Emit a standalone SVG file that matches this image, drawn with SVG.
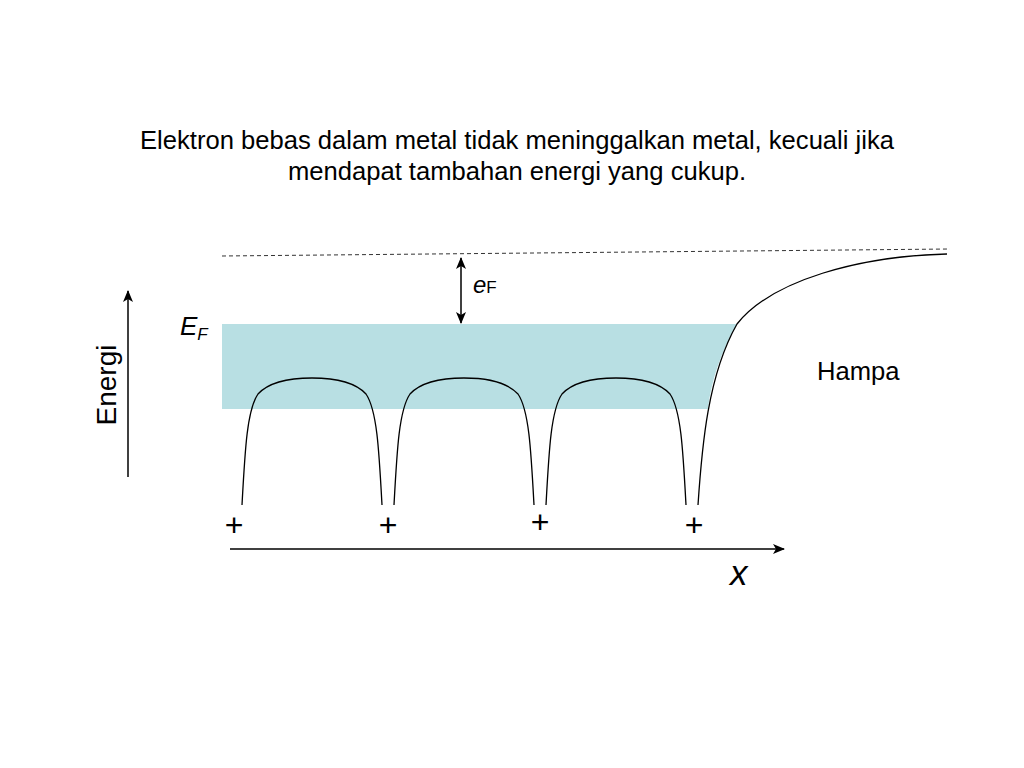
<svg xmlns="http://www.w3.org/2000/svg" width="1024" height="768" viewBox="0 0 1024 768">
<style>
text{font-family:"Liberation Sans",Arial,sans-serif;fill:#000}
.t{font-size:25.6px}
.curve{fill:none;stroke:#000;stroke-width:1.3}
.ax{fill:none;stroke:#000;stroke-width:1.5}
</style>
<defs>
<marker id="ah" viewBox="0 0 12 10" refX="11" refY="5" markerWidth="12" markerHeight="10" markerUnits="userSpaceOnUse" orient="auto-start-reverse">
<path d="M0,0 L12,5 L0,10 L3,5 Z" fill="#000"/>
</marker>
</defs>
<rect width="1024" height="768" fill="#fff"/>
<g id="title">
<text class="t" x="517" y="149" text-anchor="middle">Elektron bebas dalam metal tidak meninggalkan metal, kecuali jika</text>
<text class="t" x="517" y="180" text-anchor="middle">mendapat tambahan energi yang cukup.</text>
</g>
<g id="band">
<path d="M222,324 H737 C722,350 711,380 708,409 H222 Z" fill="#b8dfe3"/>
</g>
<g id="vacuum-level">
<path d="M222,256 L950,249" stroke="#333" stroke-width="1" stroke-dasharray="4 3" fill="none"/>
</g>
<g id="wells">
<path class="curve" d="M242,505 C245,450 247,410 258,394 C270,381 292,378 312,378 C332,378 354,381 366,394 C377,410 379,450 382,505"/>
<path class="curve" d="M394,505 C397,450 399,410 410,394 C422,381 444,378 464,378 C484,378 506,381 518,394 C529,410 531,450 534,505"/>
<path class="curve" d="M546,505 C549,450 551,410 562,394 C574,381 596,378 616,378 C636,378 658,381 670,394 C681,410 683,450 686,505"/>
<path class="curve" d="M698,505 C702,445 708,375 737,324 C772,280 860,256 947,254"/>
</g>
<g id="connectors">
<line class="ax" x1="461" y1="258" x2="461" y2="323" stroke-width="1.3" marker-start="url(#ah)" marker-end="url(#ah)"/>
<line class="ax" x1="128" y1="477" x2="128" y2="291" marker-end="url(#ah)"/>
<line class="ax" x1="230" y1="549" x2="784" y2="549" marker-end="url(#ah)"/>
</g>
<g id="labels">
<text x="180" y="335" font-size="26" font-style="italic">E<tspan font-size="17" dy="5">F</tspan></text>
<text x="473" y="293" font-size="24" font-style="italic">e<tspan font-size="17" font-style="normal">F</tspan></text>
<text class="t" x="817" y="380">Hampa</text>
<text transform="translate(116,385) rotate(-90)" font-size="28" text-anchor="middle">Energi</text>
<text x="730" y="585" font-size="35" font-style="italic">x</text>
</g>
<g id="charges" font-size="32" text-anchor="middle">
<text x="234" y="536">+</text>
<text x="388" y="536">+</text>
<text x="540" y="533">+</text>
<text x="694" y="536">+</text>
</g>
</svg>
